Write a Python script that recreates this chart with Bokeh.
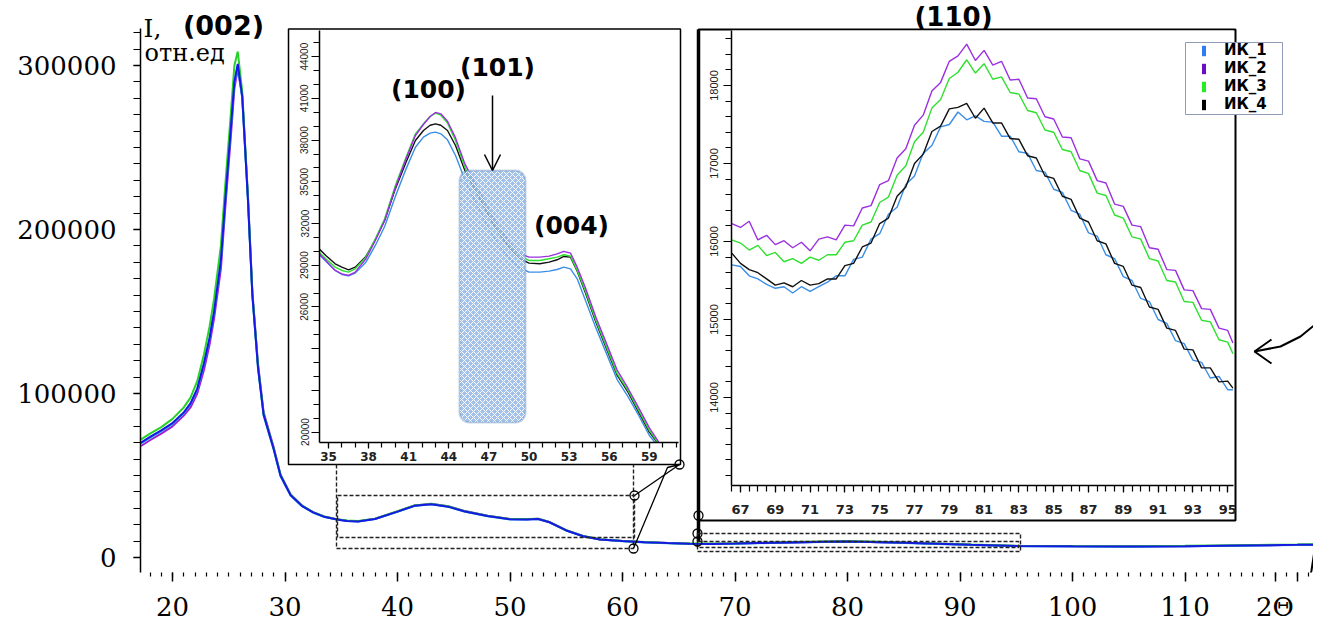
from bokeh.plotting import figure
from bokeh.models import (Range1d, FixedTicker, SingleIntervalTicker, NumeralTickFormatter,
                          Label, Arrow, OpenHead, BoxAnnotation, Legend, LegendItem, GridBox)
from bokeh.embed import file_html
from bokeh.resources import INLINE

# ---------------- data ----------------
series_names = ["ИК_1", "ИК_2", "ИК_3", "ИК_4"]

# main pattern (2Theta, I)
main_x = [17.2, 18.0, 19.0, 20.0, 21.0, 21.6, 22.2, 22.8, 23.3, 23.7,
          24.3, 24.7, 25.2, 25.5, 25.8, 26.2, 26.7, 27.1, 27.6, 28.1,
          29.0, 29.6, 30.5, 31.5, 32.5, 33.5, 34.6, 35.5, 36.5, 38.0,
          40.0, 41.5, 43.0, 44.5, 46.0, 48.0, 50.0, 51.5, 52.5, 53.5,
          55.0, 56.5, 58.0, 60.0, 62.0, 64.0, 66.0, 68.0, 70.0, 72.0,
          75.0, 78.0, 80.0, 82.0, 85.0, 88.0, 91.0, 95.0, 100.0, 105.0,
          110.0, 115.0, 120.0, 122.0]
main_ik1 = [69500, 73000, 77000, 81500, 88000, 93500, 102500, 118000, 133500, 149500,
            180500, 218000, 262000, 289000, 300000, 280000, 218500, 159500, 115500, 86500,
            65500, 49500, 37800, 31300, 27300, 24700, 23100, 22200, 21900, 23400,
            27900, 31400, 32400, 30900, 27900, 25200, 23200, 23100, 23400, 21400,
            16400, 12900, 10900, 9900, 9200, 8700, 8300, 8200, 8400, 8700,
            9100, 9500, 9600, 9400, 8900, 8300, 7600, 6900, 6700, 6600,
            6800, 7200, 7600, 7800]
main_ik2 = [68000, 71500, 75500, 80000, 86500, 91500, 100000, 114500, 130000, 146000,
            176000, 214000, 258000, 286000, 298000, 281000, 221000, 162000, 118000, 88500,
            67000, 50500, 38500, 31700, 27600, 24900, 23300, 22400, 22100, 23600,
            28100, 31700, 32800, 31300, 28300, 25500, 23400, 23300, 23600, 21700,
            16700, 13100, 11000, 10000, 9300, 8800, 8400, 8300, 8500, 8800,
            9200, 9600, 9700, 9500, 9000, 8400, 7700, 7000, 6800, 6700,
            6900, 7300, 7700, 7900]
main_ik3 = [72000, 75500, 79500, 84500, 91500, 97500, 107500, 124000, 141000, 158000,
            190000, 228000, 272000, 300000, 308500, 284000, 221000, 161000, 117000, 87500,
            66500, 50500, 38500, 31800, 27700, 25000, 23400, 22500, 22200, 23700,
            28200, 31700, 32700, 31200, 28200, 25500, 23500, 23500, 23700, 21600,
            16600, 13100, 11100, 10100, 9400, 8900, 8500, 8500, 8700, 9000,
            9400, 9800, 9900, 9700, 9200, 8600, 7900, 7200, 7000, 6900,
            7100, 7500, 7900, 8100]
main_ik4 = [70000, 73500, 77500, 82000, 88500, 94000, 103000, 118500, 134000, 150000,
            181000, 219000, 263000, 290000, 301000, 281000, 219000, 160000, 116000, 87000,
            66000, 50000, 38000, 31500, 27500, 24800, 23200, 22300, 22000, 23500,
            28000, 31500, 32500, 31000, 28000, 25300, 23300, 23200, 23500, 21500,
            16500, 13000, 11000, 10000, 9300, 8800, 8400, 8300, 8500, 8800,
            9200, 9600, 9700, 9500, 9000, 8400, 7700, 7000, 6800, 6700,
            6900, 7300, 7700, 7900]
main_x_ticks = [20, 30, 40, 50, 60, 70, 80, 90, 100, 110, 118, 120]
main_x_labels = ["20", "30", "40", "50", "60", "70", "80", "90", "100", "110", "2Θ", ""]

# zoom 1: 34-61 deg
zoom1_x = [34.3, 34.8, 35.5, 36.0, 36.5, 37.0, 37.8, 38.5, 39.2, 40.0,
           40.8, 41.5, 42.1, 42.6, 43.0, 43.4, 43.9, 44.5, 45.2, 46.0,
           46.8, 47.6, 48.4, 49.2, 50.0, 50.8, 51.5, 52.1, 52.6, 53.1,
           53.6, 54.2, 55.0, 55.8, 56.6, 57.4, 58.2, 59.0, 59.7]
zoom1_ik1 = [29770, 29290, 28620, 28330, 28240, 28430, 29220, 30420, 31780, 33940,
             35930, 37490, 38210, 38500, 38570, 38450, 38020, 36890, 35140, 33540,
             31980, 30660, 29650, 28860, 28500, 28500, 28570, 28690, 28860, 28740,
             28020, 26510, 24490, 22620, 20750, 19550, 18190, 16750, 15910]
zoom1_ik2 = [29820, 29340, 28620, 28380, 28260, 28500, 29460, 30780, 32220, 34570,
             36650, 38330, 39120, 39700, 39990, 39890, 39360, 38160, 36290, 34810,
             33370, 31980, 30830, 29870, 29580, 29580, 29650, 29820, 29990, 29870,
             28860, 27420, 25260, 23340, 21430, 20150, 18740, 17300, 16270]
zoom1_ik3 = [29940, 29460, 28860, 28620, 28500, 28740, 29580, 30900, 32340, 34730,
             36770, 38450, 39170, 39700, 39940, 39790, 39220, 37970, 36050, 34610,
             33170, 31740, 30660, 29700, 29340, 29340, 29460, 29580, 29750, 29650,
             28620, 27180, 25020, 23100, 21180, 19990, 18550, 17110, 16150]
zoom1_ik4 = [30180, 29700, 29100, 28860, 28670, 28860, 29630, 30830, 32220, 34490,
             36410, 37970, 38690, 39070, 39170, 39070, 38690, 37610, 35810, 34370,
             32890, 31500, 30420, 29530, 29150, 29100, 29220, 29390, 29630, 29580,
             28570, 27060, 24900, 22980, 21070, 19870, 18430, 16990, 16100]
zoom1_x_ticks = [35, 38, 41, 44, 47, 50, 53, 56, 59]
zoom1_y_ticks = [17000, 20000, 23000, 26000, 29000, 32000, 35000, 38000, 41000, 44000]
zoom1_y_labels = ["20000", "", "", "26000", "29000", "32000", "35000", "38000", "41000", "44000"]

# zoom 2: 66-95 deg
zoom2_x = [66.5, 67.0, 67.5, 68.0, 68.5, 69.0, 69.5, 70.0, 70.5, 71.0,
           71.5, 72.0, 72.5, 73.0, 73.5, 74.0, 74.5, 75.0, 75.5, 76.0,
           76.5, 77.0, 77.5, 78.0, 78.5, 79.0, 79.5, 80.0, 80.5, 81.0,
           81.5, 82.0, 82.5, 83.0, 83.5, 84.0, 84.5, 85.0, 85.5, 86.0,
           86.5, 87.0, 87.5, 88.0, 88.5, 89.0, 89.5, 90.0, 90.5, 91.0,
           91.5, 92.0, 92.5, 93.0, 93.5, 94.0, 94.5, 95.0, 95.3]
zoom2_ik1 = [15700, 15680, 15560, 15520, 15450, 15400, 15420, 15340, 15420, 15360,
             15420, 15480, 15560, 15560, 15770, 15800, 16030, 16100, 16350, 16440,
             16730, 16840, 17130, 17230, 17470, 17500, 17660, 17560, 17610, 17540,
             17530, 17350, 17350, 17150, 17130, 16910, 16890, 16670, 16630, 16400,
             16350, 16110, 16070, 15830, 15780, 15550, 15500, 15270, 15230, 15000,
             14950, 14730, 14690, 14480, 14450, 14250, 14270, 14100, 14100]
zoom2_ik2 = [16230, 16180, 16260, 16020, 16080, 15960, 16010, 15920, 15990, 15880,
             16030, 16060, 16020, 16210, 16200, 16430, 16460, 16730, 16780, 17070,
             17190, 17490, 17620, 17930, 18040, 18310, 18380, 18530, 18320, 18450,
             18260, 18310, 18070, 18080, 17840, 17830, 17600, 17570, 17340, 17330,
             17060, 17030, 16780, 16750, 16480, 16450, 16210, 16190, 15920, 15900,
             15640, 15630, 15380, 15370, 15140, 15130, 14890, 14860, 14700]
zoom2_ik3 = [16020, 15980, 15890, 15950, 15820, 15860, 15740, 15780, 15720, 15800,
             15760, 15830, 15830, 15990, 16010, 16210, 16250, 16500, 16570, 16850,
             16970, 17280, 17400, 17710, 17820, 18090, 18170, 18330, 18160, 18280,
             18080, 18110, 17910, 17890, 17680, 17650, 17430, 17400, 17180, 17150,
             16910, 16870, 16620, 16590, 16340, 16300, 16060, 16030, 15780, 15750,
             15500, 15480, 15230, 15220, 14990, 14970, 14740, 14710, 14560]
zoom2_ik4 = [15850, 15720, 15640, 15600, 15520, 15440, 15470, 15420, 15500, 15440,
             15460, 15520, 15520, 15690, 15720, 15930, 15980, 16230, 16300, 16580,
             16700, 17000, 17120, 17410, 17480, 17700, 17720, 17770, 17580, 17710,
             17520, 17520, 17320, 17310, 17100, 17070, 16840, 16810, 16580, 16540,
             16300, 16250, 16010, 15970, 15720, 15680, 15440, 15410, 15160, 15130,
             14890, 14860, 14620, 14610, 14380, 14380, 14200, 14210, 14120]
zoom2_x_ticks = [67, 69, 71, 73, 75, 77, 79, 81, 83, 85, 87, 89, 91, 93, 95]
zoom2_y_ticks = [14000, 15000, 16000, 17000, 18000]

# ---------------- styles ----------------
main_colors = ["#1fb0e0", "#a01ed8", "#27d327", "#1818e6"]
zoom_colors = ["#3a8ee6", "#9b30e0", "#2fe02f", "#111111"]
legend_colors = ["#2f7cf6", "#6a0dc8", "#22ee22", "#000000"]
SERIF = "DejaVu Serif"
SANS = "DejaVu Sans"


# page-pixel helpers (positions only)
def mx(px):
    return 20 + (px - 172) / 11.25


def my(py):
    return (557 - py) / 0.00164


def i1x(px):
    return 35 + (px - 328) / 13.37


def i1y(py):
    return 32000 - (py - 223) / 0.0139


def i2x(px):
    return 67 + (px - 740) / 17.4


def i2y(py):
    return 18000 - (py - 85) / 0.078


# ---------------- main figure (page x 8..1313, y 0..636) ----------------
main = figure(width=1305, height=636, output_backend="svg", toolbar_location=None,
              x_range=Range1d(mx(140), mx(1313)), y_range=Range1d(my(572), my(0)),
              min_border_left=132, min_border_right=0, min_border_top=0, min_border_bottom=64,
              background_fill_color="white", border_fill_color="white", outline_line_color=None)
main.grid.visible = False

xa = main.xaxis[0]
xa.ticker = FixedTicker(ticks=main_x_ticks, minor_ticks=list(range(17, 123)))
xa.major_label_overrides = {t: lab for t, lab in zip(main_x_ticks, main_x_labels)}
xa.axis_line_color = None
xa.major_tick_in = 0
xa.major_tick_out = 9
xa.minor_tick_in = 0
xa.minor_tick_out = 4
xa.major_tick_line_color = "black"
xa.minor_tick_line_color = "black"
xa.major_tick_line_width = 1.5
xa.minor_tick_line_width = 1.2
xa.major_label_text_font = SERIF
xa.major_label_text_font_size = "26px"
xa.major_label_text_color = "black"
xa.major_label_standoff = 10

ya = main.yaxis[0]
ya.ticker = SingleIntervalTicker(interval=100000, num_minor_ticks=10)
ya.formatter = NumeralTickFormatter(format="0")
ya.bounds = (my(574), my(28))
ya.axis_line_color = "black"
ya.axis_line_width = 1.5
ya.major_tick_in = 0
ya.major_tick_out = 7
ya.minor_tick_in = 0
ya.minor_tick_out = 7
ya.major_tick_line_color = "black"
ya.minor_tick_line_color = "black"
ya.major_tick_line_width = 1.3
ya.minor_tick_line_width = 1.2
ya.major_label_text_font = SERIF
ya.major_label_text_font_size = "26px"
ya.major_label_text_color = "black"
ya.major_label_standoff = 17

main_series = [main_ik2, main_ik1, main_ik3, main_ik4]
main_cols = [main_colors[1], main_colors[0], main_colors[2], main_colors[3]]
for ys, c in zip(main_series, main_cols):
    main.line(main_x, ys, line_color=c, line_width=2)

# inset frames (outer boxes)
main.quad(left=[mx(288)], right=[mx(680)], top=[my(28.5)], bottom=[my(464)],
          fill_color=None, line_color="black", line_width=1.5)
main.quad(left=[mx(698)], right=[mx(1235)], top=[my(29)], bottom=[my(520)],
          fill_color=None, line_color="black", line_width=2)
main.line([mx(698), mx(698)], [my(29), my(541)], line_color="black", line_width=3.5)

# zoom markers for inset 1
main.line([mx(336), mx(336), mx(633), mx(633)], [my(464), my(548), my(548), my(464)],
          line_color="#222222", line_width=1.4, line_dash="4 2")
main.quad(left=[mx(337)], right=[mx(634)], top=[my(495)], bottom=[my(537)],
          fill_color=None, line_color="#222222", line_width=1.4, line_dash="4 2")
main.line([mx(634), mx(679)], [my(495), my(464)], line_color="black", line_width=1.3)
main.line([mx(633), mx(667), mx(679)], [my(548), my(467), my(464)], line_color="black", line_width=1.3)

# zoom markers for inset 2
main.quad(left=[mx(697)], right=[mx(1020)], top=[my(533)], bottom=[my(551)],
          fill_color=None, line_color="#222222", line_width=1.4, line_dash="4 2")
main.quad(left=[mx(697)], right=[mx(1018)], top=[my(541)], bottom=[my(547)],
          fill_color=None, line_color="#222222", line_width=1.4, line_dash="4 2")

main.scatter([mx(634), mx(633), mx(679), mx(698), mx(697), mx(697)],
             [my(495), my(548), my(464), my(515), my(533), my(541)],
             marker="circle", size=9, fill_color="white", fill_alpha=0.0,
             line_color="black", line_width=1.3)

# hand-drawn arrow and stroke at the right edge
main.line([mx(1322), mx(1300), mx(1280), mx(1254)], [my(318), my(336), my(346), my(351)],
          line_color="black", line_width=2)
main.line([mx(1271), mx(1254), mx(1271)], [my(339), my(351), my(363)], line_color="black", line_width=2)
main.line([mx(1320), mx(1317), mx(1311), mx(1309)], [my(490), my(530), my(570), my(578)],
          line_color="black", line_width=2)

# texts of main plot
main.add_layout(Label(x=mx(143), y=my(28), text="I,", text_font=SERIF, text_font_size="25px",
                      text_color="black", text_baseline="alphabetic", text_align="left"))
main.add_layout(Label(x=mx(144), y=my(52), text="отн.ед", text_font=SERIF, text_font_size="24px",
                      text_color="black", text_baseline="alphabetic", text_align="left"))
main.add_layout(Label(x=mx(223), y=my(25), text="(002)", text_font=SANS, text_font_size="27px",
                      text_font_style="bold", text_color="black", text_baseline="middle",
                      text_align="center"))
main.add_layout(Label(x=mx(953), y=my(16), text="(110)", text_font=SANS, text_font_size="26px",
                      text_font_style="bold", text_color="black", text_baseline="middle",
                      text_align="center"))

# ---------------- inset 1 (page x 287..681, y 27..465) ----------------
in1 = figure(width=394, height=438, output_backend="svg", toolbar_location=None,
             x_range=Range1d(i1x(319), i1x(678)), y_range=Range1d(i1y(442), i1y(30)),
             min_border_left=32, min_border_right=3, min_border_top=3, min_border_bottom=23,
             background_fill_color="white", border_fill_color=None, outline_line_color=None)
in1.grid.visible = False
a = in1.xaxis[0]
a.ticker = FixedTicker(ticks=zoom1_x_ticks, minor_ticks=list(range(34, 62)))
a.axis_line_width = 1.5
a.major_tick_in = 0
a.major_tick_out = 6
a.minor_tick_in = 0
a.minor_tick_out = 5
a.major_tick_line_width = 1.2
a.minor_tick_line_width = 1.2
a.major_label_text_font = SANS
a.major_label_text_font_style = "bold"
a.major_label_text_font_size = "12px"
a.major_label_text_color = "#222222"
a.major_label_standoff = 3
a = in1.yaxis[0]
a.ticker = FixedTicker(ticks=zoom1_y_ticks, minor_ticks=list(range(17000, 46000, 1000)))
a.major_label_overrides = {t: lab for t, lab in zip(zoom1_y_ticks, zoom1_y_labels)}
a.major_label_orientation = "vertical"
a.axis_line_width = 1.5
a.major_tick_in = 0
a.major_tick_out = 8
a.minor_tick_in = 0
a.minor_tick_out = 6
a.major_tick_line_width = 1.2
a.minor_tick_line_width = 1.2
a.major_label_text_font = "Liberation Sans"
a.major_label_text_font_size = "10px"
a.major_label_text_color = "#222222"
a.major_label_standoff = 3

for ys, c in [(zoom1_ik1, zoom_colors[0]), (zoom1_ik4, zoom_colors[3]),
              (zoom1_ik3, zoom_colors[2]), (zoom1_ik2, zoom_colors[1])]:
    in1.line(zoom1_x, ys, line_color=c, line_width=1.4)

box = BoxAnnotation(left=i1x(459), right=i1x(525), top=i1y(170), bottom=i1y(422),
                    fill_color="#94b7e5", fill_alpha=0.85, hatch_pattern="x", hatch_color="white",
                    hatch_alpha=1.0, hatch_scale=6, hatch_weight=1,
                    line_color="#4a78b0", line_width=2)
try:
    box.border_radius = 10
except Exception:
    pass
in1.add_layout(box)
in1.add_layout(Arrow(end=OpenHead(size=16, line_width=1.5, line_color="black"),
                     x_start=i1x(492), y_start=i1y(95), x_end=i1x(492), y_end=i1y(170),
                     line_color="black", line_width=1.5))
for txt, px, py in [("(100)", 428, 89), ("(101)", 497, 67), ("(004)", 571, 225)]:
    in1.add_layout(Label(x=i1x(px), y=i1y(py), text=txt, text_font=SANS, text_font_size="25px",
                         text_font_style="bold", text_color="black", text_baseline="middle",
                         text_align="center"))

# ---------------- inset 2 (page x 695..1237, y 27..522) ----------------
in2 = figure(width=542, height=495, output_backend="svg", toolbar_location=None,
             x_range=Range1d(i2x(731), i2x(1233)), y_range=Range1d(i2y(485), i2y(30)),
             min_border_left=36, min_border_right=4, min_border_top=3, min_border_bottom=37,
             background_fill_color="white", border_fill_color=None, outline_line_color=None)
in2.grid.visible = False
a = in2.xaxis[0]
a.ticker = FixedTicker(ticks=zoom2_x_ticks, minor_ticks=[v / 2 for v in range(133, 191)])
a.axis_line_width = 1.5
a.major_tick_in = 0
a.major_tick_out = 7
a.minor_tick_in = 0
a.minor_tick_out = 6
a.major_tick_line_width = 1.2
a.minor_tick_line_width = 1.2
a.major_label_text_font = SANS
a.major_label_text_font_style = "bold"
a.major_label_text_font_size = "13px"
a.major_label_text_color = "#222222"
a.major_label_standoff = 12
a = in2.yaxis[0]
a.ticker = FixedTicker(ticks=zoom2_y_ticks, minor_ticks=list(range(13000, 18800, 200)))
a.major_label_orientation = "vertical"
a.axis_line_width = 1.5
a.major_tick_in = 0
a.major_tick_out = 8
a.minor_tick_in = 0
a.minor_tick_out = 6
a.major_tick_line_width = 1.2
a.minor_tick_line_width = 1.2
a.major_label_text_font = "Liberation Sans"
a.major_label_text_font_size = "11px"
a.major_label_text_color = "#222222"
a.major_label_standoff = 6

for ys, c in [(zoom2_ik1, zoom_colors[0]), (zoom2_ik4, zoom_colors[3]),
              (zoom2_ik3, zoom_colors[2]), (zoom2_ik2, zoom_colors[1])]:
    in2.line(zoom2_x, ys, line_color=c, line_width=1.4)

# ---------------- legend (page x 1185..1283, y 42..115) ----------------
lf = figure(width=98, height=73, output_backend="svg", toolbar_location=None,
            x_range=Range1d(0, 1), y_range=Range1d(0, 1),
            x_axis_location=None, y_axis_location=None, min_border=0,
            background_fill_color="white", border_fill_color=None,
            outline_line_color="#8f9ab5", outline_line_width=1)
lf.grid.visible = False
items = []
for name, c in zip(series_names, legend_colors):
    r = lf.vbar(x=[0.5], top=[0], bottom=[0], width=0.1, fill_color=c, line_alpha=0)
    items.append(LegendItem(label=name, renderers=[r]))
leg = Legend(items=items, location=(16, 2), orientation="vertical", padding=0, spacing=0, margin=0,
             label_height=17, glyph_height=13, glyph_width=5, label_standoff=18,
             label_text_font=SANS, label_text_font_style="bold", label_text_font_size="15px",
             label_text_color="black", border_line_alpha=0, background_fill_alpha=0)
lf.add_layout(leg)

# ---------------- composition ----------------
cols = ["8px", "279px", "394px", "14px", "490px", "52px", "46px", "30px"]
rows = ["8px", "19px", "15px", "73px", "175px", "175px", "57px", "114px"]
grid = GridBox(children=[(main, 0, 1, 8, 7), (in1, 2, 2, 4, 1), (in2, 2, 4, 5, 2),
                         (lf, 3, 5, 1, 2)],
               rows=rows, cols=cols, spacing=0)

open("out.html", "w").write(file_html(grid, INLINE))
